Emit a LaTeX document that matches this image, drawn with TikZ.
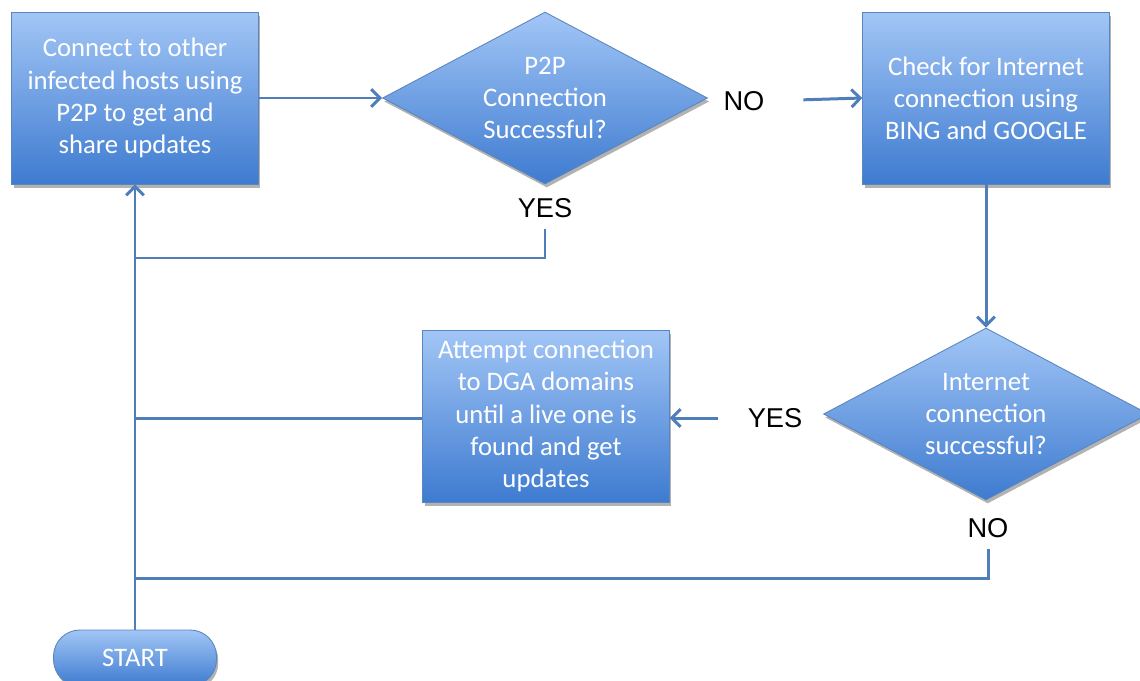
\documentclass[tikz,border=0pt]{standalone}
\usepackage{fontspec}
\setmainfont{Carlito}
\newfontfamily\labelfont{Liberation Sans}
\usetikzlibrary{shapes.geometric,shadows,arrows.meta}
\definecolor{boxtop}{HTML}{A2C6F6}
\definecolor{boxbot}{HTML}{3E7BD0}
\definecolor{boxline}{HTML}{5A86BE}
\definecolor{flowline}{HTML}{4F7EBB}

\begin{document}
\begin{tikzpicture}[x=0.02cm, y=-0.02cm,
  every node/.style = {align=center, text=white, inner sep=0pt,
    font=\fontsize{15.2}{18.3}\selectfont},
  shade/.style = {draw=boxline, line width=0.5pt, top color=boxtop, bottom color=boxbot,
    drop shadow={shadow xshift=1pt, shadow yshift=-2pt, opacity=.3, fill=black}},
  stepbox/.style = {shade, rectangle, minimum width=4.93cm, minimum height=3.44cm},
  choice/.style = {shade, diamond, aspect=1.9, minimum width=6.5cm, minimum height=3.44cm},
  startbox/.style = {shade, rectangle, rounded corners=15pt, minimum width=3.26cm, minimum height=1.12cm},
  answer/.style = {text=black, font=\labelfont\fontsize{15.5}{18}\selectfont},
  link/.style = {draw=flowline, line width=1.7pt},
  arrow/.style = {link, -{Straight Barb[length=5pt, width=10pt]}}]
  \useasboundingbox (0,0) rectangle (1140,680);

  \node[stepbox] (connect) at (135,98) {Connect to other\\infected hosts using\\P2P to get and\\share updates};
  \node[choice] (p2p) at (545,98) {P2P\\Connection\\Successful?};
  \node[stepbox] (check) at (986,98) {Check for Internet\\connection using\\BING and GOOGLE};
  \node[choice] (internet) at (986,414) {Internet\\connection\\successful?};
  \node[stepbox] (dga) at (546,416) {Attempt connection\\to DGA domains\\until a live one is\\found and get\\updates};
  \node[startbox] (start) at (135,658) {START};

  \node[answer] (p2pno) at (744,101) {NO};
  \node[answer] (p2pyes) at (545,208) {YES};
  \node[answer] (netyes) at (775,418) {YES};
  \node[answer] (netno) at (988,528) {NO};

  \coordinate (back1) at (135,258);
  \coordinate (back2) at (135,418);
  \coordinate (back3) at (135,578);

  \draw[arrow] (connect.east) -- (p2p.west);
  \draw[arrow, shorten <=22pt] (p2pno.east) -- (check.west);
  \draw[arrow] (check.south) -- (internet.north);
  \draw[arrow, shorten <=17pt] (netyes.west) -- (dga.east |- netyes.west);
  \draw[link, shorten <=6pt] (p2pyes.south) |- (back1);
  \draw[link] (dga.west |- back2) -- (back2);
  \draw[link, shorten <=6pt] (netno.south) |- (back3);
  \draw[arrow] (start.north) -- (connect.south);
\end{tikzpicture}
\end{document}
